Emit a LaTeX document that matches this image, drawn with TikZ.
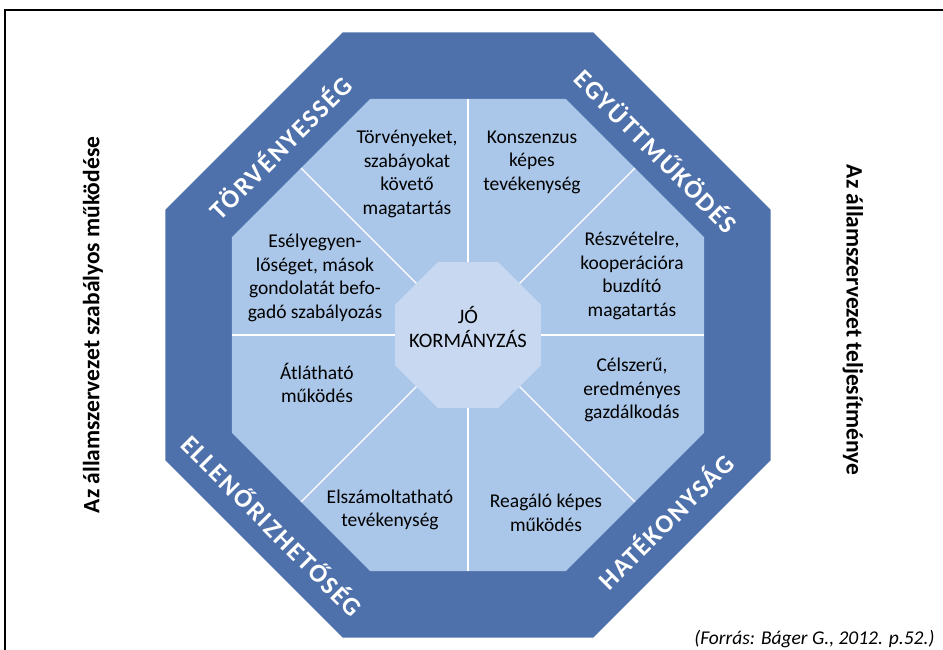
\documentclass[tikz,border=0pt]{standalone}
\usepackage{fontspec}
\setmainfont{Carlito}
\newfontfamily\bandfont[LetterSpace=7]{Carlito}
\usepackage{tikz}
\usetikzlibrary{shapes.geometric}
\definecolor{bandblue}{RGB}{79,113,171}
\definecolor{fieldblue}{RGB}{170,199,233}
\definecolor{coreblue}{RGB}{199,216,240}

\begin{document}
\begin{tikzpicture}[x=1pt, y=1pt,
    octa/.style={regular polygon, regular polygon sides=8, inner sep=0pt, outer sep=0pt},
    field/.style={font=\fontsize{19.5}{23.5}\selectfont, align=center},
    band/.style={font=\bandfont\fontsize{26}{30}\selectfont\bfseries, text=white},
    side/.style={font=\fontsize{23.5}{27}\selectfont\bfseries},
    divide/.style={draw=white, line width=1.2pt}]
  \useasboundingbox (0,0) rectangle (943,650);
  % frame
  \draw[line width=1.2pt] (5,0) -- (5,640) -- (943,640);
  % octagons
  \node[octa, fill=bandblue, minimum size=655pt] (outer) at (468,315) {};
  \node[octa, fill=fieldblue, minimum size=511pt] (field) at (468,315) {};
  \node[octa, fill=coreblue, minimum size=158pt] (core) at (468,315) {};
  \node[field, font=\fontsize{20.5}{24}\selectfont] (goal) at (468,323) {JÓ\\KORMÁNYZÁS};
  \foreach \s in {1,...,8}
    \draw[divide] (core) -- (field.side \s);
  % band labels
  \node[band, rotate=45] (law) at (280,503) {TÖRVÉNYESSÉG};
  \node[band, rotate=-45] (coop) at (657,500) {EGYÜTTMŰKÖDÉS};
  \node[band, rotate=-45] (ctrl) at (273,125) {ELLENŐRIZHETŐSÉG};
  \node[band, rotate=45] (eff) at (665,129) {HATÉKONYSÁG};
  % field texts
  \node[field] (t1) at (407,476) {Törvényeket,\\szabáyokat\\követő\\magatartás};
  \node[field] (t2) at (532,488) {Konszenzus\\képes\\tevékenység};
  \node[field] (t3) at (632,374) {Részvételre,\\kooperációra\\buzdító\\magatartás};
  \node[field] (t4) at (632,260) {Célszerű,\\eredményes\\gazdálkodás};
  \node[field] (t5) at (546,137) {Reagáló képes\\működés};
  \node[field] (t6) at (390,140) {Elszámoltatható\\tevékenység};
  \node[field] (t7) at (317,267) {Átlátható\\működés};
  \node[field] (t8) at (315,372) {Esélyegyen-\\lőséget, mások\\gondolatát befo-\\gadó szabályozás};
  % side labels
  \node[side, rotate=90] (lside) at (93,325) {Az államszervezet szabályos működése};
  \node[side, rotate=-90] (rside) at (853,330) {Az államszervezet teljesítménye};
  \node[anchor=east, font=\fontsize{19.5}{22}\selectfont\itshape] (source) at (938,11) {(Forrás: Báger G., 2012. p.52.)};
\end{tikzpicture}
\end{document}
